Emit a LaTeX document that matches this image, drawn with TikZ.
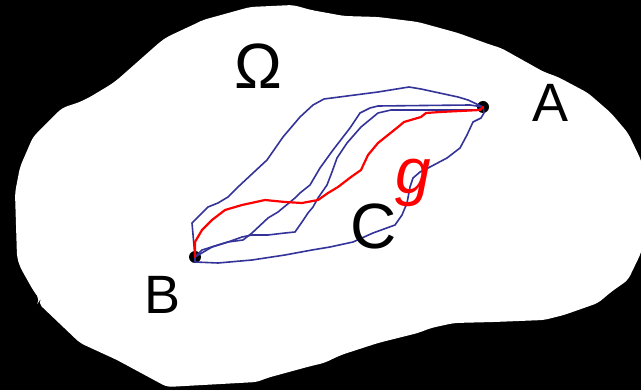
\documentclass[tikz,border=0pt]{standalone}
\usepackage{fontspec}
\setmainfont{Liberation Sans}
\definecolor{pathblue}{RGB}{51,51,153}
\begin{document}
\begin{tikzpicture}[x=1pt,y=-1pt,
 bluepath/.style={draw=pathblue,line width=1.6pt,line join=round,line cap=round},
 redpath/.style={draw=red,line width=2.2pt,line join=round,line cap=round},
 dotnode/.style={circle,fill=black,inner sep=0pt,minimum size=12pt},
 lbl/.style={inner sep=0pt,anchor=base,font=\fontsize{54}{60}\selectfont},
 biglbl/.style={inner sep=0pt,anchor=base,font=\fontsize{64}{70}\selectfont}]
\useasboundingbox (0,0) rectangle (641,390);
\fill[black] (0,0) rectangle (641,390);
\begin{scope}
\clip (0,0) rectangle (641,390);
\fill[white,rounded corners=5pt] (293,5) -- (311,10) -- (344,16) -- (378,17) -- (418,22) -- (458,33) -- (491,45) -- (501,48) -- (544,72) -- (558,77) -- (588,93) -- (611,113) -- (628,133) -- (641,160) -- (650,205) -- (641,253) -- (628,280) -- (611,292) -- (598,303) -- (564,315) -- (544,320) -- (494,322) -- (454,323) -- (431,328) -- (418,333) -- (378,343) -- (341,355) -- (324,363) -- (311,366) -- (267,378) -- (257,382) -- (167,387) -- (117,360) -- (80,343) -- (38,303) -- (40,300) -- (33,290) -- (20,267) -- (17,257) -- (15,193) -- (20,167) -- (33,137) -- (47,123) -- (62,108) -- (80,102) -- (90,97) -- (110,85) -- (117,80) -- (160,42) -- (167,37) -- (197,23) -- (203,20) -- (250,7) -- cycle;
\end{scope}
\node[dotnode] (A) at (483,107) {};
\node[dotnode] (B) at (195,257) {};
% outer upper path
\draw[bluepath] (B.center) -- (192,223) -- (208,207) -- (218,203) -- (228,197) -- (238,187) -- (253,173) -- (267,160) -- (283,137) -- (300,117) -- (313,105) -- (324,99) -- (378,92) -- (409,87) -- (421,89) -- (458,97) -- (468,100) -- (A.center);
% middle path 1
\draw[bluepath] (B.center) -- (202,250) -- (218,245) -- (228,242) -- (243,240) -- (252,233) -- (268,218) -- (278,212) -- (295,198) -- (300,193) -- (310,185) -- (320,168) -- (333,150) -- (350,128) -- (360,113) -- (370,108) -- (378,106) -- (470,105) -- (A.center);
% middle path 2
\draw[bluepath] (B.center) -- (212,247) -- (228,242) -- (242,237) -- (252,235) -- (268,235) -- (285,233) -- (295,232) -- (302,222) -- (308,213) -- (313,207) -- (318,198) -- (327,185) -- (332,172) -- (337,158) -- (347,143) -- (361,127) -- (378,113) -- (391,110) -- (478,110) -- (A.center);
% lower path through C
\draw[bluepath] (B.center) -- (195,262) -- (218,263) -- (252,260) -- (285,255) -- (312,250) -- (330,247) -- (353,242) -- (373,233) -- (395,225) -- (402,215) -- (407,203) -- (410,187) -- (413,178) -- (420,172) -- (430,167) -- (447,158) -- (460,148) -- (467,135) -- (473,122) -- (481,118) -- (484,113) -- (A.center);
% red path g
\draw[redpath] (B.center) -- (195,242) -- (202,230) -- (212,220) -- (225,210) -- (242,205) -- (265,200) -- (285,202) -- (302,203) -- (318,200) -- (328,193) -- (338,187) -- (351,177) -- (361,170) -- (368,155) -- (378,143) -- (398,127) -- (404,122) -- (421,117) -- (426,113) -- (440,112) -- (480,110) -- (A.center);
\node[biglbl] (omega) at (258,89) {Ω};
\node[lbl] (labA) at (551,122) {A};
\node[lbl] (labB) at (163,314) {B};
\node[biglbl] (labC) at (374,249) {C};
\node[biglbl,text=red] (labg) at (413,194) {\itshape g};
\end{tikzpicture}
\end{document}
